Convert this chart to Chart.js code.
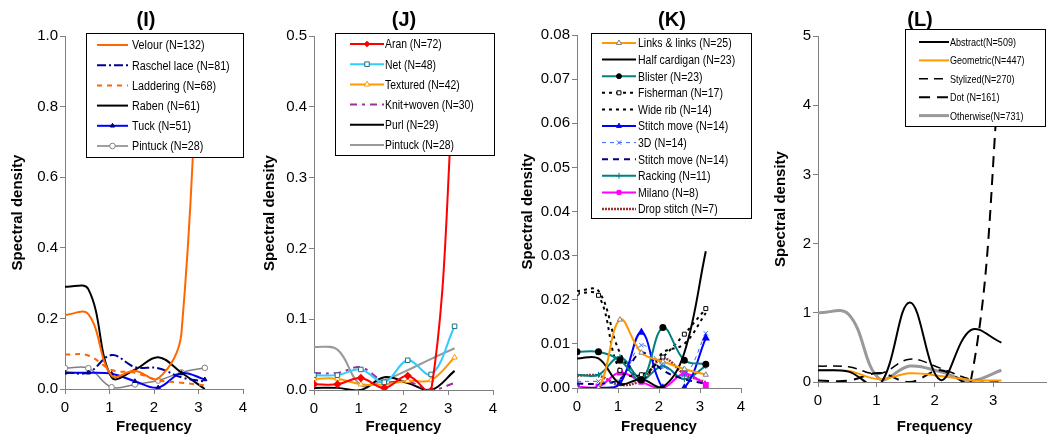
<!DOCTYPE html>
<html>
<head>
<meta charset="utf-8">
<script src="https://cdn.jsdelivr.net/npm/chart.js@4.4.1/dist/chart.umd.min.js"></script>
<style>
  html, body { margin: 0; padding: 0; background: #fff; overflow: hidden; width: 1047px; height: 436px; }
  canvas { position: absolute; top: 0; }
</style>
</head>
<body>
<canvas id="pI" width="253" height="436" style="left:9px"></canvas>
<canvas id="pJ" width="263" height="436" style="left:261px"></canvas>
<canvas id="pK" width="267" height="436" style="left:519px"></canvas>
<canvas id="pL" width="300" height="436" style="left:772px"></canvas>
<script>
// frequencies: 0 .. pi in steps of pi/6
const freq = [0, 0.5236, 1.0472, 1.5708, 2.0944, 2.618, 3.1416];
const xTicks = [0, 1, 2, 3, 4];

// (I)
const velour     = [0.21, 0.212, 0.038, 0.052, 0.03, 0.16, 1.6];
const raschel    = [0.047, 0.047, 0.096, 0.062, 0.059, 0.033, 0.021];
const laddering  = [0.098, 0.095, 0.054, 0.046, 0.025, 0.018, 0.01];
const raben      = [0.29, 0.283, 0.033, 0.055, 0.09, 0.046, 0.0];
const tuck       = [0.046, 0.046, 0.043, 0.022, 0.004, 0.045, 0.027];
const pintuckI   = [0.059, 0.059, 0.005, 0.013, 0.024, 0.047, 0.06];

// (J)
const aran       = [0.008, 0.008, 0.017, 0.003, 0.02, -0.001, 0.45];
const net        = [0.021, 0.021, 0.029, 0.011, 0.042, 0.022, 0.09];
const textured   = [0.016, 0.016, 0.008, 0.008, 0.013, 0.014, 0.046];
const knitWoven  = [0.024, 0.024, 0.032, 0.012, 0.012, 0.0, 0.01];
const purl       = [0.003, 0.003, 0.0, 0.018, 0.01, 0.0, 0.027];
const pintuckJ   = [0.061, 0.057, 0.007, 0.014, 0.028, 0.044, 0.059];

// (K)
const linksLinks   = [0.0, 0.0, 0.0155, 0.008, 0.006, 0.0043, 0.003];
const halfCardigan = [0.0067, 0.0067, 0.001, 0.002, 0.0003, 0.008, 0.031];
const blister      = [0.0082, 0.0082, 0.0063, 0.0018, 0.0137, 0.0063, 0.0054];
const fisherman    = [0.0215, 0.021, 0.004, 0.003, 0.007, 0.0122, 0.018];
const wideRib      = [0.022, 0.022, 0.008, 0.002, 0.008, 0.01, 0.017];
const stitchMove   = [0.0, 0.0, 0.001, 0.0126, 0.0, 0.0, 0.0113];
const threeD       = [0.0015, 0.0015, 0.0015, 0.0097, 0.005, 0.003, 0.0124];
const stitchMove2  = [0.001, 0.001, 0.002, 0.008, 0.004, 0.002, 0.001];
const racking      = [0.003, 0.003, 0.007, 0.002, 0.005, 0.002, 0.005];
const milano       = [0.0003, 0.0003, 0.0035, 0.0014, 0.0, 0.0033, 0.0007];
const dropStitch   = [0.0028, 0.0028, 0.0007, 0.0018, 0.0067, 0.0032, 0.0013];

// (L)
const abstractL  = [0.17, 0.15, -0.05, 1.15, 0.03, 0.75, 0.57];
const geometric  = [0.17, 0.16, 0.04, 0.125, 0.087, 0.03, 0.02];
const stylized   = [0.23, 0.22, 0.12, 0.33, 0.2, 0.04, 0.01];
const dotL       = [0.02, 0.02, 0.13, 0.0, 0.17, 0.02, 4.8];
const otherwise  = [1.0, 0.98, 0.05, 0.23, 0.15, 0.02, 0.17];

const FONT = "'Liberation Sans', Arial, sans-serif";

function pts(vals) {
  return vals.map((v, i) => ({ x: freq[i], y: v }));
}

function ds(label, vals, color, extra) {
  return Object.assign({
    label: label,
    data: pts(vals),
    borderColor: color,
    backgroundColor: color,
    borderWidth: 2,
    pointRadius: 0,
    pointStyle: false,
    fill: false
  }, extra || {});
}

// draws the boxed legend with line samples
const boxLegend = {
  id: 'boxLegend',
  afterDatasetsDraw(chart, args, o) {
    if (!o || !o.box) return;
    const ctx = chart.ctx;
    const b = o.box;
    ctx.save();
    ctx.fillStyle = '#fff';
    ctx.fillRect(b.x, b.y, b.w, b.h);
    ctx.strokeStyle = '#000';
    ctx.lineWidth = 1;
    ctx.setLineDash([]);
    ctx.strokeRect(b.x + 0.5, b.y + 0.5, b.w, b.h);
    chart.data.datasets.forEach((d, i) => {
      const y = b.y + o.first + i * o.row;
      ctx.save();
      ctx.strokeStyle = d.borderColor;
      ctx.lineWidth = d.borderWidth;
      ctx.setLineDash(d.borderDash || []);
      ctx.beginPath();
      ctx.moveTo(o.x1, y);
      ctx.lineTo(o.x2, y);
      ctx.stroke();
      ctx.restore();
      if (d.pointStyle && d.pointRadius > 0) {
        ctx.save();
        ctx.setLineDash([]);
        ctx.fillStyle = d.pointBackgroundColor || d.borderColor;
        ctx.strokeStyle = d.pointBorderColor || d.borderColor;
        ctx.lineWidth = d.pointBorderWidth || 1;
        Chart.helpers.drawPoint(ctx, {
          pointStyle: d.pointStyle, radius: d.pointRadius,
          rotation: 0, borderWidth: d.pointBorderWidth || 1
        }, (o.x1 + o.x2) / 2, y);
        ctx.restore();
      }
      ctx.save();
      ctx.fillStyle = '#000';
      ctx.font = o.font;
      ctx.textAlign = 'left';
      ctx.textBaseline = 'middle';
      ctx.translate(o.tx, y + 1);
      ctx.scale(o.sx, 1);
      ctx.fillText(d.label, 0, 0);
      ctx.restore();
    });
    ctx.restore();
  }
};

const panelTitle = {
  id: 'panelTitle',
  afterDraw(chart, args, o) {
    if (!o || !o.text) return;
    const ctx = chart.ctx;
    ctx.save();
    ctx.fillStyle = '#000';
    ctx.font = 'bold 20px ' + FONT;
    ctx.textAlign = 'center';
    ctx.textBaseline = 'middle';
    ctx.fillText(o.text, o.x, o.y);
    ctx.restore();
  }
};

function makePanel(id, p) {
  const cv = document.getElementById(id);
  const W = cv.width, H = cv.height;
  new Chart(cv.getContext('2d'), {
    type: 'line',
    data: { datasets: p.datasets },
    plugins: [boxLegend, panelTitle],
    options: {
      responsive: false,
      animation: false,
      events: [],
      layout: { padding: { top: p.area.top, right: W - p.area.right, left: 0, bottom: 0 } },
      elements: { line: { tension: 0.38, capBezierPoints: false } },
      plugins: {
        legend: { display: false },
        tooltip: { enabled: false },
        title: { display: false },
        boxLegend: p.legend,
        panelTitle: p.title
      },
      scales: {
        x: {
          type: 'linear',
          min: 0, max: 4,
          afterBuildTicks: (s) => { s.ticks = xTicks.map(v => ({ value: v })); },
          afterFit: (s) => { s.height = H - p.area.bottom; },
          grid: { drawOnChartArea: false, color: '#808080', tickLength: 5, tickWidth: 1 },
          border: { color: '#808080', width: 1 },
          ticks: { color: '#000', padding: 5, font: { family: FONT, size: 15 } },
          title: { display: true, text: 'Frequency', color: '#000',
                   font: { family: FONT, size: 15, weight: 'bold' }, padding: { top: 0, bottom: 0 } }
        },
        y: {
          min: 0, max: p.yMax,
          afterBuildTicks: (s) => { s.ticks = p.yTicks.map(v => ({ value: v })); },
          afterFit: (s) => { s.width = p.area.left; },
          grid: { drawOnChartArea: false, color: '#808080', tickLength: 5, tickWidth: 1 },
          border: { color: '#808080', width: 1 },
          ticks: { color: '#000', padding: 2, font: { family: FONT, size: 15 },
                   callback: (v) => Number(v).toFixed(p.yDec) },
          title: { display: true, text: 'Spectral density', color: '#000',
                   font: { family: FONT, size: 15, weight: 'bold' }, padding: { top: 0, bottom: 0 } }
        }
      }
    }
  });
}

makePanel('pI', {
  area: { left: 56, right: 234, top: 36, bottom: 389 },
  yMax: 1.0, yTicks: [0, 0.2, 0.4, 0.6, 0.8, 1.0], yDec: 1,
  title: { text: '(I)', x: 137, y: 20 },
  legend: { box: { x: 77, y: 33, w: 157, h: 124 }, first: 12, row: 20.2,
            x1: 88, x2: 119, tx: 123, font: '12.5px ' + FONT, sx: 0.86 },
  datasets: [
    ds('Velour (N=132)', velour, '#FF6600'),
    ds('Raschel lace (N=81)', raschel, '#000099', { borderDash: [9, 3, 2, 3] }),
    ds('Laddering (N=68)', laddering, '#FF6600', { borderDash: [5, 5] }),
    ds('Raben (N=61)', raben, '#000000'),
    ds('Tuck (N=51)', tuck, '#0000FF', { pointStyle: 'triangle', pointRadius: 2.5,
        pointBackgroundColor: '#000080', pointBorderColor: '#000080', pointBorderWidth: 1 }),
    ds('Pintuck (N=28)', pintuckI, '#808080', { borderWidth: 1.5, pointStyle: 'circle', pointRadius: 2.8,
        pointBackgroundColor: '#fff', pointBorderColor: '#808080', pointBorderWidth: 1 })
  ]
});

makePanel('pJ', {
  area: { left: 53, right: 232, top: 36, bottom: 390 },
  yMax: 0.5, yTicks: [0, 0.1, 0.2, 0.3, 0.4, 0.5], yDec: 1,
  title: { text: '(J)', x: 143, y: 20 },
  legend: { box: { x: 74, y: 33, w: 159, h: 122 }, first: 11, row: 20.2,
            x1: 89, x2: 123, tx: 124, font: '12.5px ' + FONT, sx: 0.83 },
  datasets: [
    ds('Aran (N=72)', aran, '#FF0000', { pointStyle: 'rectRot', pointRadius: 2.8,
        pointBackgroundColor: '#FF0000', pointBorderColor: '#FF0000' }),
    ds('Net (N=48)', net, '#33CCFF', { pointStyle: 'rect', pointRadius: 3.2,
        pointBackgroundColor: '#fff', pointBorderColor: '#1F6F80', pointBorderWidth: 1 }),
    ds('Textured (N=42)', textured, '#FF9900', { pointStyle: 'triangle', pointRadius: 3.2,
        pointBackgroundColor: '#fff', pointBorderColor: '#FF9900', pointBorderWidth: 1 }),
    ds('Knit+woven (N=30)', knitWoven, '#993399', { borderDash: [7, 5, 3, 5] }),
    ds('Purl (N=29)', purl, '#000000'),
    ds('Pintuck (N=28)', pintuckJ, '#999999')
  ]
});

makePanel('pK', {
  area: { left: 58, right: 222, top: 35, bottom: 388 },
  yMax: 0.08, yTicks: [0, 0.01, 0.02, 0.03, 0.04, 0.05, 0.06, 0.07, 0.08], yDec: 2,
  title: { text: '(K)', x: 153, y: 20 },
  legend: { box: { x: 72, y: 33, w: 160, h: 185 }, first: 10, row: 16.6,
            x1: 83, x2: 117, tx: 119, font: '12.5px ' + FONT, sx: 0.84 },
  datasets: [
    ds('Links & links (N=25)', linksLinks, '#FF9900', { pointStyle: 'triangle', pointRadius: 3,
        pointBackgroundColor: '#fff', pointBorderColor: '#808080', pointBorderWidth: 1 }),
    ds('Half cardigan (N=23)', halfCardigan, '#000000'),
    ds('Blister (N=23)', blister, '#008080', { pointStyle: 'circle', pointRadius: 2.5,
        pointBackgroundColor: '#000', pointBorderColor: '#000' }),
    ds('Fisherman (N=17)', fisherman, '#000000', { borderDash: [3, 4], pointStyle: 'rect', pointRadius: 2.8,
        pointBackgroundColor: '#fff', pointBorderColor: '#000', pointBorderWidth: 1 }),
    ds('Wide rib (N=14)', wideRib, '#000000', { borderDash: [3, 4] }),
    ds('Stitch move (N=14)', stitchMove, '#0000FF', { pointStyle: 'triangle', pointRadius: 2.8,
        pointBackgroundColor: '#0000FF', pointBorderColor: '#0000FF' }),
    ds('3D (N=14)', threeD, '#3366FF', { borderWidth: 1, borderDash: [4, 4], pointStyle: 'crossRot', pointRadius: 3,
        pointBackgroundColor: '#3366FF', pointBorderColor: '#3366FF', pointBorderWidth: 1 }),
    ds('Stitch move (N=14)', stitchMove2, '#000080', { borderDash: [6, 5] }),
    ds('Racking (N=11)', racking, '#008080', { pointStyle: 'cross', pointRadius: 3,
        pointBackgroundColor: '#008080', pointBorderColor: '#008080', pointBorderWidth: 1 }),
    ds('Milano (N=8)', milano, '#FF00FF', { pointStyle: 'rect', pointRadius: 2.8,
        pointBackgroundColor: '#FF00FF', pointBorderColor: '#FF00FF' }),
    ds('Drop stitch (N=7)', dropStitch, '#993333', { borderWidth: 2.5, borderDash: [2, 1] })
  ]
});

makePanel('pL', {
  area: { left: 46, right: 279.5, top: 36, bottom: 382 },
  yMax: 5, yTicks: [0, 1, 2, 3, 4, 5], yDec: 0,
  title: { text: '(L)', x: 148, y: 20 },
  legend: { box: { x: 133, y: 29, w: 140, h: 97 }, first: 13, row: 18.4,
            x1: 147, x2: 177, tx: 178, font: '11px ' + FONT, sx: 0.82 },
  datasets: [
    ds('Abstract(N=509)', abstractL, '#000000'),
    ds('Geometric(N=447)', geometric, '#FF9900'),
    ds('Stylized(N=270)', stylized, '#000000', { borderWidth: 1.5, borderDash: [9, 6] }),
    ds('Dot (N=161)', dotL, '#000000', { borderWidth: 2, borderDash: [11, 7] }),
    ds('Otherwise(N=731)', otherwise, '#999999', { borderWidth: 3 })
  ]
});
</script>
</body>
</html>
